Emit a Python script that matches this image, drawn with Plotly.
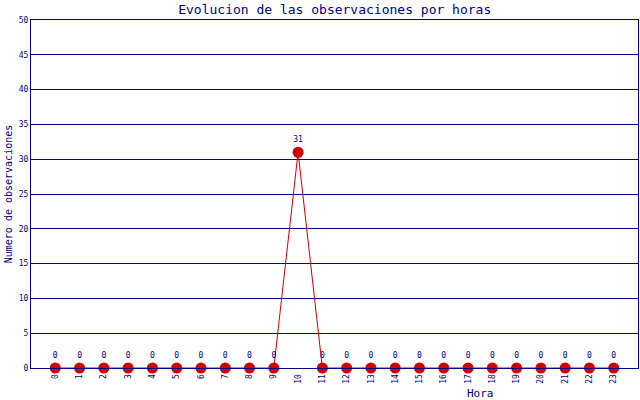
"""Evolucion de las observaciones por horas."""

import plotly.graph_objects as go

horas = list(range(24))
observaciones = [0, 0, 0, 0, 0, 0, 0, 0, 0, 0, 31, 0,
                 0, 0, 0, 0, 0, 0, 0, 0, 0, 0, 0, 0]
etiquetas_x = [str(h) for h in horas]
ticks_y = [0, 5, 10, 15, 20, 25, 30, 35, 40, 45, 50]

NAVY = "#000080"
ROJO = "#cc0000"
FUENTE = "DejaVu Sans Mono"

fig = go.Figure()
fig.add_trace(go.Scatter(
    x=horas, y=observaciones,
    mode="lines+markers+text",
    line=dict(color=ROJO, width=1),
    marker=dict(color=ROJO, size=11),
    text=[str(v) for v in observaciones],
    textposition="top center",
    textfont=dict(family=FUENTE, size=8, color=NAVY),
    cliponaxis=False,
    hoverinfo="skip",
))

fig.update_layout(
    width=640, height=400,
    margin=dict(l=31, r=2, t=20, b=32, autoexpand=False),
    paper_bgcolor="white", plot_bgcolor="white",
    showlegend=False,
    title=dict(text="Evolucion de las observaciones por horas",
               x=0.523, xanchor="center", y=0.977, yanchor="middle",
               font=dict(family=FUENTE, size=13, color=NAVY)),
    font=dict(family=FUENTE, color=NAVY),
)
fig.update_xaxes(
    range=[-1, 24], tickvals=horas, ticktext=etiquetas_x,
    tickangle=-90, tickfont=dict(size=8, color=NAVY),
    showgrid=False, zeroline=False, automargin=False,
    showline=True, linecolor=NAVY, linewidth=1, mirror=True,
    ticks="", ticklabelstandoff=2,
)
fig.update_yaxes(
    range=[0, 50], tickvals=ticks_y,
    tickfont=dict(size=8, color=NAVY),
    showgrid=True, gridcolor=NAVY, gridwidth=1, zeroline=False,
    showline=True, linecolor=NAVY, linewidth=1, mirror=True,
    ticks="", automargin=False,
    title=dict(text="Numero de observaciones", standoff=4,
               font=dict(size=10, color=NAVY)),
)
fig.add_annotation(text="Hora", x=(480 - 31) / (640 - 33), xref="paper",
                   y=-0.072, yref="paper",
                   showarrow=False, xanchor="center", yanchor="middle",
                   font=dict(family=FUENTE, size=11, color=NAVY))

# la pagina por defecto tiene 8px de margen en el body
fig.write_html("out.html", config={"displayModeBar": False},
               post_script="document.body.style.margin='0';")
